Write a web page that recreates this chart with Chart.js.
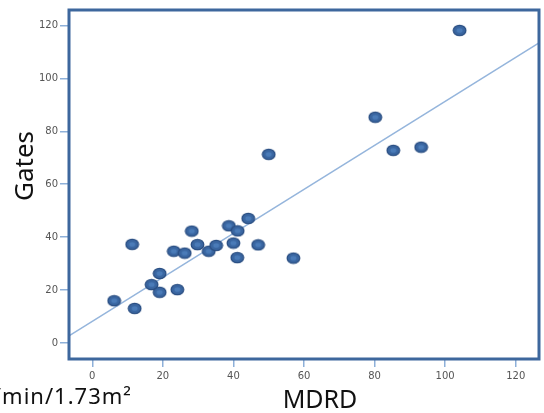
<!DOCTYPE html>
<html>
<head>
<meta charset="utf-8">
<script src="https://cdn.jsdelivr.net/npm/chart.js@4.4.1/dist/chart.umd.min.js"></script>
<style>
  html, body { margin: 0; padding: 0; background: #fff; }
  #wrap { width: 544px; height: 413px; }
</style>
</head>
<body>
<div id="wrap"><canvas id="c" width="544" height="413"></canvas></div>
<script>
// MDRD vs Gates 散佈圖 + 迴歸線
const mdrd = [6.2, 12.0, 11.3, 16.8, 19.1, 19.1, 23.1, 24.1, 26.2, 28.2, 29.8, 33.0, 35.1,
              38.7, 40.0, 41.1, 41.2, 44.2, 47.0, 50.0, 57.0, 80.2, 85.3, 93.2, 104.1];
const gates = [16.0, 13.1, 37.3, 22.1, 19.2, 26.3, 34.7, 20.2, 34.0, 42.3, 37.2, 34.7, 36.9,
               44.3, 37.8, 32.3, 42.4, 47.1, 37.1, 71.3, 32.1, 85.3, 72.8, 74.0, 118.1];
const xTicks = [0, 20, 40, 60, 80, 100, 120];
const yTicks = [0, 20, 40, 60, 80, 100, 120];
const xRange = [-6.6, 126.6];
const yRange = [-6, 125.8];
// 迴歸線 (由圖估計)
const fitIntercept = 8.2;
const fitSlope = 0.831;

const fitLine = xRange.map(x => ({ x: x, y: fitIntercept + fitSlope * x }));
const points = mdrd.map((x, i) => ({ x: x, y: gates[i] }));

// 橢圓點樣式
function makeDot() {
    const c = document.createElement('canvas');
    c.width = 15; c.height = 13;
    const g = c.getContext('2d');
    g.beginPath();
    g.ellipse(7.5, 6.5, 6.3, 5.2, 0, 0, Math.PI * 2);
    g.fillStyle = '#3a66a1';
    g.fill();
    g.lineWidth = 1.3;
    g.strokeStyle = '#2a4e82';
    g.stroke();
    g.beginPath();
    g.ellipse(7.5, 6.5, 3, 2.3, 0, 0, Math.PI * 2);
    g.fillStyle = '#4a7bb8';
    g.fill();
    return c;
}

const boxPlugin = {
    id: 'box',
    afterDraw(chart) {
        const { ctx, chartArea: a } = chart;
        ctx.save();
        ctx.strokeStyle = '#3d679d';
        ctx.lineWidth = 3;
        ctx.strokeRect(a.left, a.top, a.right - a.left, a.bottom - a.top);

        ctx.fillStyle = '#111';
        ctx.font = '25px "Noto Sans"';
        ctx.textAlign = 'center';
        ctx.textBaseline = 'alphabetic';
        ctx.fillText('MDRD', 320, 408);

        ctx.textAlign = 'right';
        ctx.font = '22px "Noto Sans"';
        ctx.letterSpacing = '1px';
        ctx.fillText('mL/min/1.73m\u00B2', 132, 404);
        ctx.letterSpacing = '0px';

        ctx.translate(33, 166);
        ctx.rotate(-Math.PI / 2);
        ctx.textAlign = 'center';
        ctx.font = '26px "Noto Sans"';
        ctx.fillText('Gates', 0, 0);
        ctx.restore();
    }
};

const tickFont = { family: 'DejaVu Sans', size: 10 };

new Chart(document.getElementById('c'), {
    type: 'scatter',
    data: {
        datasets: [
            {
                type: 'line',
                data: fitLine,
                borderColor: '#95b5dc',
                borderWidth: 1.5,
                pointRadius: 0,
                fill: false,
                order: 2
            },
            {
                data: points,
                pointStyle: makeDot(),
                order: 1
            }
        ]
    },
    options: {
        responsive: false,
        animation: false,
        layout: { padding: { top: 10, right: 4, left: 0, bottom: 0 } },
        plugins: { legend: { display: false }, tooltip: { enabled: false } },
        scales: {
            x: {
                type: 'linear',
                min: xRange[0],
                max: xRange[1],
                afterBuildTicks: s => { s.ticks = xTicks.map(v => ({ value: v })); },
                afterFit: s => { s.height = 54; },
                border: { display: false },
                grid: { drawOnChartArea: false, drawTicks: true, tickLength: 8, color: '#8eb0d9', lineWidth: 1.5 },
                ticks: { font: tickFont, color: '#555', padding: 3, maxRotation: 0 }
            },
            y: {
                type: 'linear',
                min: yRange[0],
                max: yRange[1],
                afterBuildTicks: s => { s.ticks = yTicks.map(v => ({ value: v })); },
                afterFit: s => { s.width = 69; },
                border: { display: false },
                grid: { drawOnChartArea: false, drawTicks: true, tickLength: 9, color: '#8eb0d9', lineWidth: 1.5 },
                ticks: { font: tickFont, color: '#555', padding: 2 }
            }
        }
    },
    plugins: [boxPlugin]
});
</script>
</body>
</html>
